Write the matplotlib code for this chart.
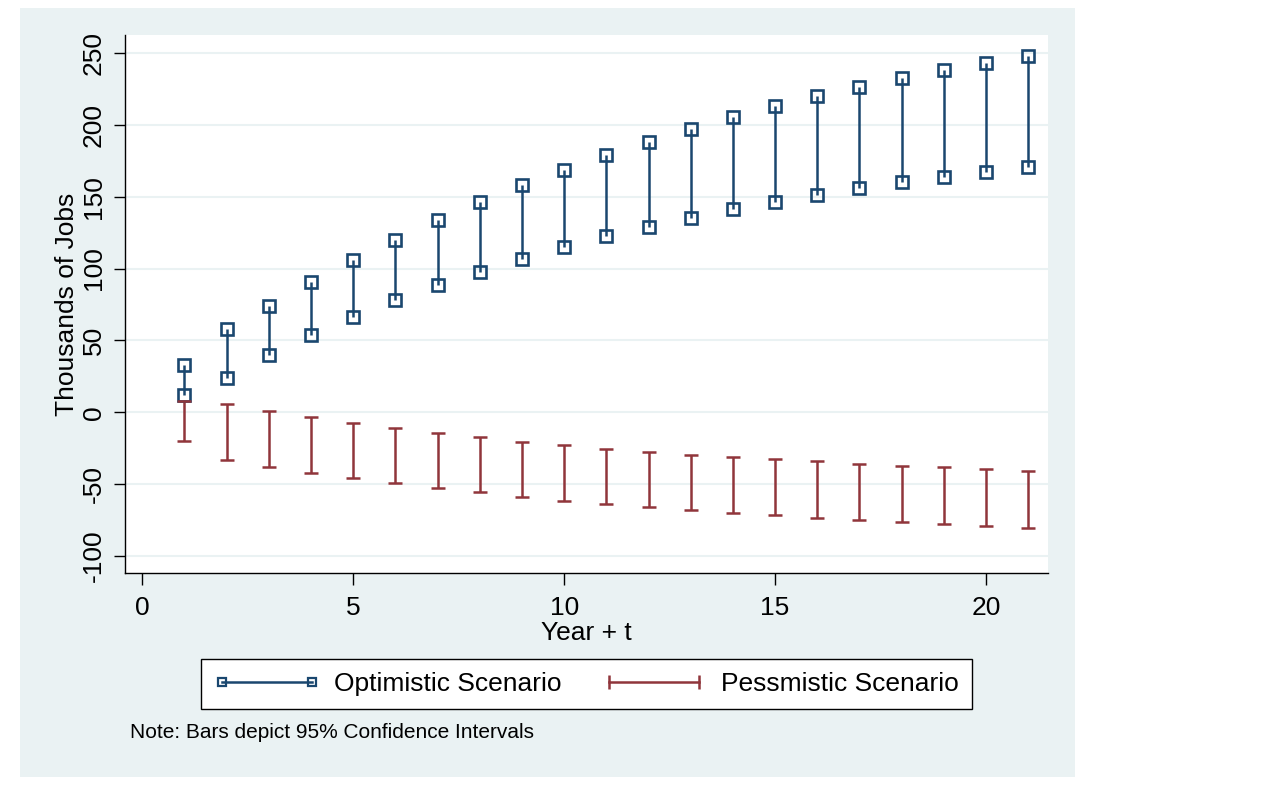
import matplotlib
matplotlib.use("Agg")
from matplotlib import pyplot as plt
from matplotlib.lines import Line2D
from matplotlib.patches import Rectangle

plt.rcParams['font.family'] = ['Liberation Sans', 'DejaVu Sans']
plt.rcParams['axes.unicode_minus'] = False

years = list(range(1, 22))

# Optimistic scenario, 95% CI bounds (thousands of jobs)
opt_hi = [32.7, 57.6, 74.0, 90.3, 105.8, 119.8, 133.7, 146.4, 157.9, 168.5, 179.0,
          188.2, 197.3, 205.6, 213.3, 220.0, 226.5, 232.3, 238.2, 243.0, 248.1]
opt_lo = [11.8, 23.5, 39.5, 53.8, 66.6, 78.2, 88.4, 97.7, 106.8, 114.9, 122.3,
          129.1, 135.4, 141.1, 146.5, 151.4, 155.8, 160.0, 163.9, 167.3, 170.6]

# Pessimistic scenario, 95% CI bounds
pes_hi = [8.1, 5.8, 0.9, -3.5, -7.7, -11.1, -14.2, -17.4, -20.4, -22.7, -25.3,
          -27.6, -29.5, -31.1, -32.9, -34.3, -35.7, -37.1, -38.3, -39.7, -40.6]
pes_lo = [-20.2, -33.4, -37.8, -42.2, -46.0, -49.4, -52.7, -55.7, -59.0, -61.5, -63.6,
          -65.9, -68.2, -69.9, -71.7, -73.6, -75.0, -76.6, -77.5, -78.9, -80.3]

navy = "#1A476F"
maroon = "#90353B"
bg = "#EAF2F3"

fig = plt.figure(figsize=(12.72, 8.1), dpi=100, facecolor="white")
fig.patches.append(Rectangle((20 / 1272, 1 - 777 / 810), 1055 / 1272, 769 / 810,
                             transform=fig.transFigure, facecolor=bg,
                             edgecolor="none", zorder=-5))

ax = fig.add_axes([125 / 1272, 1 - 573 / 810, 923 / 1272, 538 / 810])
ax.set_facecolor("white")

# optimistic: vertical bar with hollow squares at both ends
ax.vlines(years, opt_lo, opt_hi, color=navy, lw=1.8, zorder=3)
ax.plot(years, opt_hi, "s", ms=8, mfc="none", mec=navy, mew=1.9, zorder=4)
ax.plot(years, opt_lo, "s", ms=8, mfc="none", mec=navy, mew=1.9, zorder=4)

# pessimistic: capped range bars
ax.vlines(years, pes_lo, pes_hi, color=maroon, lw=1.8, zorder=3)
ax.plot(years, pes_hi, "_", ms=10, mec=maroon, mew=1.8, zorder=4)
ax.plot(years, pes_lo, "_", ms=10, mec=maroon, mew=1.8, zorder=4)

ax.set_xlim(-0.41, 21.47)
ax.set_ylim(-111.9, 262.5)
ax.set_xticks([0, 5, 10, 15, 20])
ax.set_yticks([-100, -50, 0, 50, 100, 150, 200, 250])
ax.grid(axis="y", color=bg, lw=1.5)
ax.set_axisbelow(True)

for s in ["top", "right"]:
    ax.spines[s].set_visible(False)
for s in ["left", "bottom"]:
    ax.spines[s].set_color("black")
    ax.spines[s].set_linewidth(1.0)

ax.tick_params(axis="x", length=8.5, width=1.0, pad=8, labelsize=19)
ax.tick_params(axis="y", length=8, width=1.0, pad=6, labelsize=19)
for lab in ax.get_yticklabels():
    lab.set_rotation(90)
    lab.set_va("center")

ax.set_xlabel("Year + t", fontsize=19, labelpad=1)
ax.set_ylabel("Thousands of Jobs", fontsize=19, labelpad=2)

h_opt = Line2D([], [], color=navy, lw=1.8, marker="s", ms=6, mfc="none",
               mec=navy, mew=1.6)
h_pes = Line2D([], [], color=maroon, lw=1.8, marker="|", ms=10, mec=maroon, mew=1.8)
leg = fig.legend([h_opt, h_pes], ["Optimistic Scenario", "Pessmistic Scenario"],
                 loc="center", bbox_to_anchor=(586.5 / 1272, 1 - 684 / 810),
                 ncol=2, numpoints=2, fontsize=19, frameon=True, fancybox=False,
                 handlelength=4.0, handletextpad=0.55, columnspacing=1.5,
                 borderpad=0.5, borderaxespad=0, framealpha=1)
leg.get_frame().set_edgecolor("black")
leg.get_frame().set_facecolor("white")
leg.get_frame().set_linewidth(1.0)

fig.text(130 / 1272, 1 - 733 / 810, "Note: Bars depict 95% Confidence Intervals",
         fontsize=15, va="center", ha="left")

fig.savefig("out.png", dpi=100, facecolor="white")
